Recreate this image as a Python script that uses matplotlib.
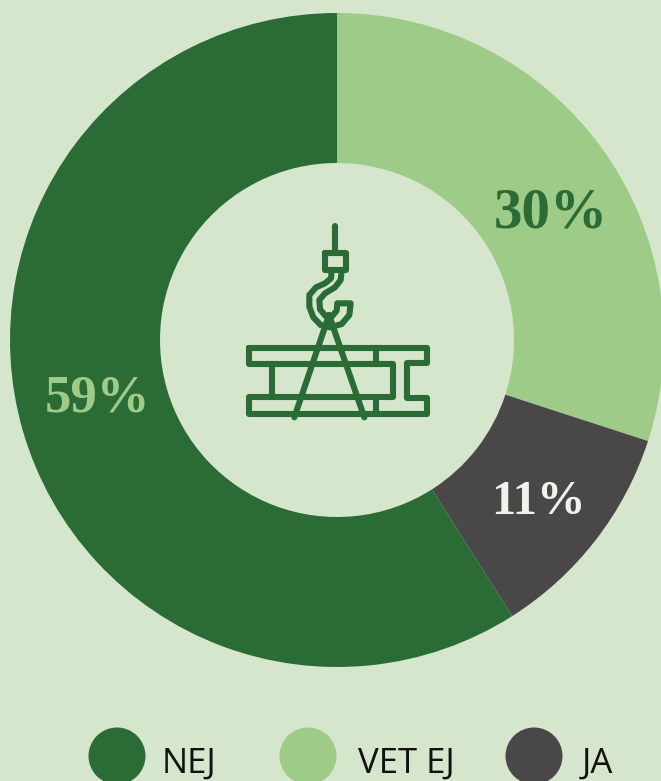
import matplotlib
matplotlib.use("Agg")
import matplotlib.pyplot as plt
from matplotlib.patches import Circle

categories = ["NEJ", "VET EJ", "JA"]
values = [59, 30, 11]
pie_order = [1, 2, 0]  # clockwise from 12 o'clock: VET EJ, JA, NEJ
colors = ["#2A6B36", "#9FCB88", "#4A4748"]
label_colors = ["#9FCB88", "#2A6B36", "#F0F2EC"]
label_pos = [(97, 398), (551, 214), (538, 502)]
label_sizes = [38, 41, 35]
legend_circle_x = [117, 308, 534]
legend_text_x = [162, 358, 582]
BG = "#D6E6CD"
W, H = 661, 781

fig = plt.figure(figsize=(W / 100, H / 100), dpi=100, facecolor=BG)
ax = fig.add_axes([0, 0, 1, 1])
ax.set_xlim(0, W)
ax.set_ylim(0, H)
ax.set_aspect("equal")
ax.axis("off")

def Y(y):
    return H - y

ax.pie([values[i] for i in pie_order], colors=[colors[i] for i in pie_order],
       center=(337, Y(340)), radius=327, startangle=90, counterclock=False,
       wedgeprops=dict(width=150, linewidth=0), frame=False)
ax.set_xlim(0, W)
ax.set_ylim(0, H)
ax.axis("off")

for v, c, (x, y), s in zip(values, label_colors, label_pos, label_sizes):
    ax.text(x, Y(y), f"{v}%", color=c, fontsize=s, fontweight="bold",
            family="Liberation Serif", ha="center", va="center")

for name, c, cx, tx in zip(categories, colors, legend_circle_x, legend_text_x):
    ax.add_patch(Circle((cx, Y(756)), 28.5, color=c, lw=0))
    ax.text(tx, Y(760), name, color="#111111", fontsize=25, family="Open Sans",
            ha="left", va="center_baseline")

# crane-hook icon (decorative), coordinates measured in a 3x crop at (230, 210)
def P(pts):
    return [230 + x / 3 for x, y in pts], [Y(210 + y / 3) for x, y in pts]

icon = [
    [(315, 47), (315, 128)],
    [(285, 130), (347, 130), (347, 180), (285, 180), (285, 130)],
    [(305, 182), (303, 205), (285, 220), (258, 232), (238, 255), (238, 290),
     (250, 322), (272, 345), (300, 352), (335, 342), (358, 315), (362, 280),
     (322, 280), (320, 302), (305, 320)],
    [(335, 182), (332, 210), (315, 232), (285, 250), (268, 270), (270, 298), (287, 318)],
    [(297, 315), (193, 622)],
    [(297, 315), (403, 622)],
    [(58, 415), (590, 415), (590, 460), (530, 460), (530, 565), (590, 565),
     (590, 612), (58, 612), (58, 562), (490, 562), (490, 462), (58, 462), (58, 415)],
    [(125, 465), (125, 560)],
    [(437, 420), (437, 458)],
    [(437, 566), (437, 608)],
]
for pts in icon:
    xs, ys = P(pts)
    ax.plot(xs, ys, color=colors[0], lw=4.4, solid_capstyle="round", solid_joinstyle="round")

fig.savefig("out.png", dpi=100, facecolor=BG)
